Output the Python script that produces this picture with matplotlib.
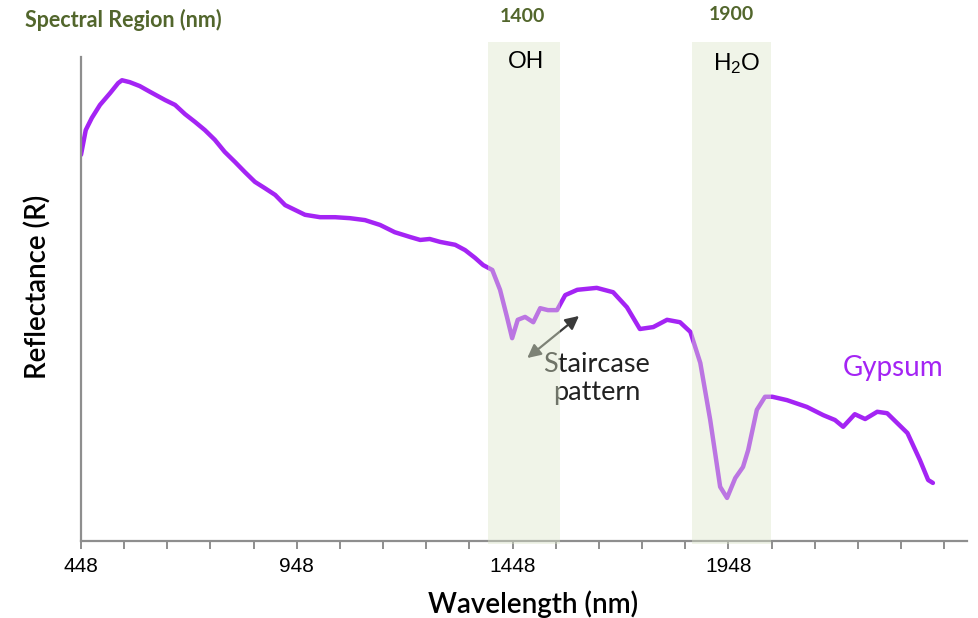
import numpy as np
import matplotlib
matplotlib.use("Agg")
import matplotlib.pyplot as plt
from matplotlib.ticker import FixedLocator

plt.rcParams["font.family"] = ["Lato", "DejaVu Sans"]
plt.rcParams["mathtext.default"] = "regular"

# gypsum reflectance spectrum (relative units)
wavelength = [448, 459, 473, 492, 516, 534, 543, 561, 584, 608, 643, 666, 689, 712,
              735, 758, 781, 805, 828, 851, 874, 898, 921, 944, 967, 1002, 1037, 1071,
              1106, 1141, 1175, 1211, 1234, 1256, 1280, 1315, 1338, 1361, 1380, 1401,
              1419, 1435, 1447, 1460, 1477, 1496, 1512, 1530, 1551, 1570, 1598, 1643,
              1681, 1713, 1743, 1774, 1806, 1836, 1860, 1883, 1906, 1929, 1945, 1964,
              1982, 1994, 2014, 2033, 2050, 2084, 2130, 2168, 2195, 2214, 2241, 2265,
              2293, 2316, 2363, 2392, 2411, 2422]
reflectance = [0.798, 0.849, 0.874, 0.901, 0.926, 0.946, 0.952, 0.948, 0.940, 0.928,
               0.911, 0.901, 0.882, 0.866, 0.849, 0.829, 0.804, 0.783, 0.762, 0.742,
               0.729, 0.715, 0.694, 0.684, 0.674, 0.669, 0.669, 0.667, 0.663, 0.653,
               0.638, 0.628, 0.622, 0.624, 0.618, 0.612, 0.601, 0.585, 0.570, 0.560,
               0.519, 0.463, 0.419, 0.457, 0.463, 0.452, 0.481, 0.477, 0.477, 0.508,
               0.519, 0.523, 0.514, 0.483, 0.438, 0.442, 0.457, 0.452, 0.432, 0.368,
               0.250, 0.112, 0.089, 0.130, 0.153, 0.188, 0.271, 0.298, 0.298, 0.291,
               0.277, 0.260, 0.250, 0.236, 0.262, 0.252, 0.267, 0.264, 0.223, 0.167,
               0.126, 0.120]

# absorption regions
band_names = ["OH", "H$_2$O"]
band_centers = ["1400", "1900"]
band_starts = [1391, 1864]
band_ends = [1558, 2047]

tick_values = [448, 948, 1448, 1948]

purple = "#a424f4"
olive = "#52662c"
axis_grey = "#8e8e8e"

W, H = 979, 618
fig = plt.figure(figsize=(W / 100, H / 100), dpi=100)
ax = fig.add_axes([81 / W, 1 - 541 / H, 886 / W, 484 / H])

ax.plot(wavelength, reflectance, color=purple, lw=3.2, solid_capstyle="round",
        solid_joinstyle="round", zorder=2)

for x0, x1 in zip(band_starts, band_ends):
    ax.axvspan(x0, x1, ymin=-0.006, ymax=1.031, color="#dce6ca", alpha=0.42,
               lw=0, zorder=3, clip_on=False)

ax.text(1480, 0.99, band_names[0], fontsize=17.5, ha="center", va="center",
        color="black", zorder=4, family=["Liberation Sans", "DejaVu Sans"])
ax.text(1968, 0.986, band_names[1], fontsize=17.5, ha="center", va="center",
        color="black", zorder=4, family=["Liberation Sans", "DejaVu Sans"])

# staircase annotation
ax.annotate("", xy=(1482, 0.378), xytext=(1602, 0.465),
            arrowprops=dict(arrowstyle="<|-|>", color="#3a3a3a", lw=1.6,
                            mutation_scale=20, shrinkA=0, shrinkB=0), zorder=2)
ax.text(1643, 0.364, "Staircase", fontsize=19.5, ha="center", va="center",
        color="#222222", zorder=2)
ax.text(1643, 0.306, "pattern", fontsize=19.5, ha="center", va="center",
        color="#222222", zorder=2)

ax.text(2329, 0.357, "Gypsum", fontsize=20, ha="center", va="center", color=purple)

ax.set_xlim(448, 2501)
ax.set_ylim(0, 1)
ax.xaxis.set_major_locator(FixedLocator(tick_values))
ax.xaxis.set_minor_locator(FixedLocator(np.arange(448, 2449, 100)))
ax.set_xticklabels([str(t) for t in tick_values],
                   family=["Liberation Sans", "DejaVu Sans"], fontsize=15)
ax.tick_params(axis="x", which="both", direction="out", length=5.5, width=1.4,
               color=axis_grey, pad=6)
ax.tick_params(axis="y", left=False, labelleft=False)
for side in ["top", "right"]:
    ax.spines[side].set_visible(False)
for side in ["left", "bottom"]:
    ax.spines[side].set_color(axis_grey)
    ax.spines[side].set_linewidth(1.6)

fig.text(38 / W, 1 - 287 / H, "Reflectance (R)", rotation=90, fontsize=20,
         ha="center", va="center", fontweight="semibold")
fig.text(533 / W, 1 - 604 / H, "Wavelength (nm)", fontsize=20,
         ha="center", va="center", fontweight="semibold")

fig.text(25 / W, 1 - 20 / H, "Spectral Region (nm)", fontsize=15.5, fontweight="bold",
         color=olive, ha="left", va="center")
fig.text(522 / W, 1 - 17 / H, band_centers[0], fontsize=14, fontweight="bold",
         color=olive, ha="center", va="center")
fig.text(731 / W, 1 - 15 / H, band_centers[1], fontsize=14, fontweight="bold",
         color=olive, ha="center", va="center")

fig.savefig("out.png", dpi=100)
